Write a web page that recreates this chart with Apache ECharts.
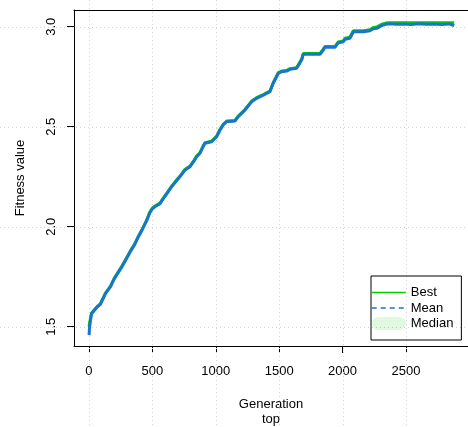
<!DOCTYPE html>
<html>
<head>
<meta charset="utf-8">
<script src="https://cdn.jsdelivr.net/npm/echarts@6/dist/echarts.min.js"></script>
<style>
  html, body { margin: 0; padding: 0; background: #fff; }
  #chart { width: 468px; height: 427px; }
</style>
</head>
<body>
<div id="chart"></div>
<script>
// GA run summary: fitness per generation
const generations = [1, 5, 20, 40, 60, 90, 130, 170, 200, 230,
  260, 300, 330, 360, 390, 420, 455, 480, 500, 520,
  560, 586, 620, 652, 690, 718, 757, 797, 830, 849,
  875, 900, 915, 967, 1007, 1033, 1060, 1086, 1151, 1177,
  1230, 1283, 1322, 1375, 1427, 1453, 1493, 1520, 1558, 1585,
  1637, 1660, 1677, 1690, 1822, 1848, 1861, 1940, 1966, 2006,
  2019, 2058, 2085, 2164, 2216, 2242, 2269, 2308, 2340, 2374,
  2420, 2480, 2540, 2600, 2660, 2720, 2780, 2840, 2880];

const bestFitness = [1.50, 1.52, 1.568, 1.583, 1.598, 1.615, 1.668, 1.703, 1.743, 1.773,
  1.803, 1.848, 1.883, 1.913, 1.953, 1.988, 2.033, 2.073, 2.093, 2.103,
  2.118, 2.143, 2.173, 2.203, 2.233, 2.253, 2.286, 2.303, 2.333, 2.353,
  2.37, 2.403, 2.42, 2.428, 2.453, 2.486, 2.513, 2.528, 2.531, 2.553,
  2.586, 2.628, 2.645, 2.661, 2.678, 2.72, 2.77, 2.778, 2.781, 2.79,
  2.795, 2.82, 2.838, 2.866, 2.866, 2.888, 2.901, 2.901, 2.924, 2.929,
  2.942, 2.947, 2.98, 2.98, 2.985, 2.996, 2.998, 3.012, 3.018, 3.02,
  3.02, 3.02, 3.02, 3.02, 3.02, 3.02, 3.02, 3.02, 3.02];

const meanFitness = [1.458, 1.50, 1.565, 1.58, 1.595, 1.612, 1.665, 1.70, 1.74, 1.77,
  1.80, 1.845, 1.88, 1.91, 1.95, 1.985, 2.03, 2.07, 2.09, 2.10,
  2.115, 2.14, 2.17, 2.20, 2.23, 2.25, 2.283, 2.30, 2.33, 2.35,
  2.367, 2.40, 2.417, 2.425, 2.45, 2.483, 2.51, 2.525, 2.528, 2.55,
  2.583, 2.625, 2.642, 2.658, 2.675, 2.717, 2.767, 2.775, 2.778, 2.787,
  2.792, 2.815, 2.833, 2.862, 2.862, 2.883, 2.897, 2.897, 2.92, 2.925,
  2.937, 2.942, 2.975, 2.975, 2.98, 2.99, 2.992, 3.005, 3.012, 3.015,
  3.012, 3.014, 3.011, 3.015, 3.012, 3.013, 3.011, 3.014, 3.005];

const medianFitness = [1.47, 1.51, 1.567, 1.582, 1.597, 1.614, 1.667, 1.702, 1.742, 1.772,
  1.802, 1.847, 1.882, 1.912, 1.952, 1.987, 2.032, 2.072, 2.092, 2.102,
  2.117, 2.142, 2.172, 2.202, 2.232, 2.252, 2.285, 2.302, 2.332, 2.352,
  2.369, 2.402, 2.419, 2.427, 2.452, 2.485, 2.512, 2.527, 2.530, 2.552,
  2.585, 2.627, 2.644, 2.660, 2.677, 2.719, 2.769, 2.777, 2.780, 2.789,
  2.794, 2.818, 2.836, 2.865, 2.865, 2.886, 2.900, 2.900, 2.923, 2.928,
  2.940, 2.945, 2.978, 2.978, 2.983, 2.994, 2.996, 3.010, 3.016, 3.018,
  3.018, 3.019, 3.018, 3.019, 3.018, 3.019, 3.018, 3.019, 3.015];

const xTicks = [0, 500, 1000, 1500, 2000, 2500];
const yTicks = [1.5, 2.0, 2.5, 3.0];

const FONT = "'Liberation Sans', Arial, Helvetica, sans-serif";
const BEST_COLOR = '#00CD00';
const MEAN_COLOR = '#1874CD';
const MEDIAN_FILL = 'rgba(0, 205, 0, 0.12)';

const pairs = ys => generations.map((g, i) => [g, ys[i]]);

const chart = echarts.init(document.getElementById('chart'), null, { renderer: 'canvas' });

const axisLineStyle = { color: '#000', width: 1 };
const labelStyle = { fontSize: 13, color: '#000', fontFamily: FONT };

chart.setOption({
  animation: false,
  backgroundColor: '#fff',
  grid: { left: 74, right: 0, top: 10, bottom: 81, outerBoundsMode: 'none', containLabel: false },
  xAxis: [{
    type: 'value', min: -118, max: 2989, position: 'bottom',
    axisLine: { show: true, onZero: false, lineStyle: axisLineStyle },
    axisTick: { show: true, length: 7, customValues: xTicks, lineStyle: axisLineStyle },
    axisLabel: { customValues: xTicks, margin: 19, formatter: v => String(v), ...labelStyle },
    splitLine: { show: false },
    name: 'Generation\ntop', nameLocation: 'middle', nameGap: 51,
    nameTextStyle: { ...labelStyle, lineHeight: 15 }
  }, {
    type: 'value', min: -118, max: 2989, position: 'top',
    axisLine: { show: true, onZero: false, lineStyle: axisLineStyle },
    axisTick: { show: false }, axisLabel: { show: false }, splitLine: { show: false }
  }],
  yAxis: {
    type: 'value', min: 1.4035, max: 3.0835,
    axisLine: { show: true, onZero: false, lineStyle: axisLineStyle },
    axisTick: { show: true, length: 7, customValues: yTicks, lineStyle: axisLineStyle },
    axisLabel: { customValues: yTicks, rotate: 90, margin: 16, formatter: v => v.toFixed(1), ...labelStyle },
    splitLine: { show: false },
    name: 'Fitness value', nameLocation: 'middle', nameGap: 47, nameRotate: 90,
    nameTextStyle: labelStyle
  },
  legend: {
    left: 371, top: 276, orient: 'vertical',
    padding: [10, 8, 10, 0], itemGap: 2.5, itemWidth: 34, itemHeight: 13,
    borderColor: '#000', borderWidth: 1, borderRadius: 0,
    textStyle: labelStyle,
    data: [
      { name: 'Best', itemStyle: { opacity: 0 },
        lineStyle: { width: 1.5, type: 'solid', color: BEST_COLOR } },
      { name: 'Mean', itemStyle: { opacity: 0 },
        lineStyle: { width: 1.5, type: [5, 4], color: MEAN_COLOR } },
      { name: 'Median', icon: 'path://M6.5,0 H27.5 A6.5,6.5 0 0 1 27.5,13 H6.5 A6.5,6.5 0 0 1 6.5,0 Z',
        itemStyle: { color: MEDIAN_FILL } }
    ]
  },
  series: [
    {
      name: 'Median', type: 'line', data: pairs(medianFitness), symbol: 'none',
      lineStyle: { color: MEDIAN_FILL, width: 3 }, itemStyle: { color: MEDIAN_FILL }, z: 2
    },
    {
      name: 'Best', type: 'line', data: pairs(bestFitness), symbol: 'none',
      lineStyle: { color: BEST_COLOR, width: 3 }, itemStyle: { color: BEST_COLOR }, z: 3
    },
    {
      name: 'Mean', type: 'line', data: pairs(meanFitness), symbol: 'none',
      lineStyle: { color: MEAN_COLOR, width: 3 }, itemStyle: { color: MEAN_COLOR }, z: 4
    }
  ]
});

// Dotted reference grid spanning the whole canvas at every tick
const W = 468, H = 427;
const gridLines = [];
const dotted = { stroke: '#d3d3d3', lineWidth: 1, lineDash: [1, 3] };
xTicks.forEach(v => {
  const px = Math.round(chart.convertToPixel({ xAxisIndex: 0 }, v)) + 0.5;
  gridLines.push({ type: 'line', silent: true, z: 1, shape: { x1: px, y1: 0, x2: px, y2: H }, style: dotted });
});
yTicks.forEach(v => {
  const py = Math.round(chart.convertToPixel({ yAxisIndex: 0 }, v)) + 0.5;
  gridLines.push({ type: 'line', silent: true, z: 1, shape: { x1: 0, y1: py, x2: W, y2: py }, style: dotted });
});
chart.setOption({ graphic: gridLines });
</script>
</body>
</html>
